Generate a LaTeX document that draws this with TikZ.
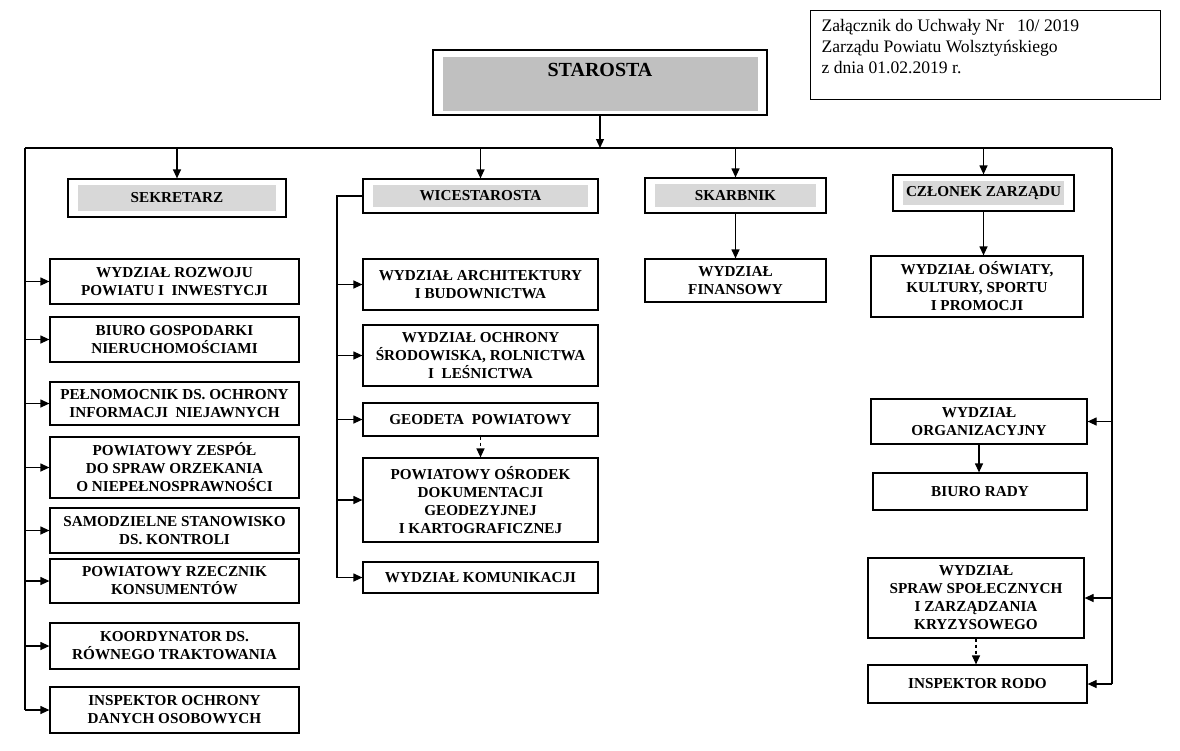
\documentclass[tikz,border=0pt]{standalone}
\usepackage{fontspec}
\setmainfont{Liberation Serif}
\usetikzlibrary{arrows.meta}

\definecolor{ciemnoszary}{RGB}{192,192,192}
\definecolor{jasnoszary}{RGB}{216,216,216}

\begin{document}
\begin{tikzpicture}[x=1pt, y=-1pt, line width=1.2pt,
    komorka/.style={draw, align=center, inner sep=2pt, font=\fontsize{15.2}{18}\selectfont\bfseries},
    naglowek/.style={komorka, path picture={\fill[jasnoszary] ([xshift=10pt,yshift=6pt]path picture bounding box.south west) rectangle ([xshift=-10pt,yshift=-6pt]path picture bounding box.north east);}},
    kolA/.style={komorka, minimum width=249pt},
    kolB/.style={komorka, minimum width=235pt},
    strz/.style={-{Triangle[length=9pt,width=8pt]}},
    przer/.style={strz, dashed}]
    \useasboundingbox (0,0) rectangle (1180,750);

    % Zalacznik
    \node (zal) [draw, anchor=north west, minimum width=350pt, minimum height=89pt] at (810,10) {};
    \node (zaltekst) [anchor=north west, align=left, inner sep=0pt, font=\fontsize{17.6}{21}\selectfont] at (821,19)
        {Załącznik do Uchwały Nr\ \ \ 10/ 2019\\Zarządu Powiatu Wolsztyńskiego\\z dnia 01.02.2019 r.};

    % Starosta
    \node (staro) [komorka, minimum width=334pt, minimum height=65pt, font=\fontsize{20}{25}\selectfont\bfseries,
        path picture={\fill[ciemnoszary] ([xshift=10pt,yshift=4pt]path picture bounding box.south west) rectangle ([xshift=-9pt,yshift=-7pt]path picture bounding box.north east);}]
        at (600,82.5) {STAROSTA\\\mbox{}};

    % Naglowki
    \node (sek) [naglowek, minimum width=218pt, minimum height=38pt] at (177,198) {SEKRETARZ};
    \node (wice) [naglowek, minimum width=235pt, minimum height=34pt] at (480.5,196) {WICESTAROSTA};
    \node (skarb) [naglowek, minimum width=181pt, minimum height=35pt] at (735.5,195.5) {SKARBNIK};
    \node (czlonek) [naglowek, minimum width=181pt, minimum height=36pt] at (983.5,193) {CZŁONEK ZARZĄDU};

    % Kolumna sekretarza
    \node (rozwoj) [kolA, minimum height=45pt] at (174.5,281.5) {WYDZIAŁ ROZWOJU\\POWIATU I\ \ INWESTYCJI};
    \node (biuro) [kolA, minimum height=45pt] at (174.5,339.5) {BIURO GOSPODARKI\\NIERUCHOMOŚCIAMI};
    \node (pelnom) [kolA, minimum height=43pt] at (174.5,403.5) {PEŁNOMOCNIK DS. OCHRONY\\INFORMACJI\ \ NIEJAWNYCH};
    \node (zespol) [kolA, minimum height=61pt] at (174.5,467.5) {POWIATOWY ZESPÓŁ\\DO SPRAW ORZEKANIA\\O NIEPEŁNOSPRAWNOŚCI};
    \node (kontrola) [kolA, minimum height=45pt] at (174.5,530.5) {SAMODZIELNE STANOWISKO\\DS. KONTROLI};
    \node (rzecznik) [kolA, minimum height=44pt] at (174.5,581) {POWIATOWY RZECZNIK\\KONSUMENTÓW};
    \node (koord) [kolA, minimum height=46pt] at (174.5,646) {KOORDYNATOR DS.\\RÓWNEGO TRAKTOWANIA};
    \node (inspektor) [kolA, minimum height=46pt] at (174.5,710) {INSPEKTOR OCHRONY\\DANYCH OSOBOWYCH};

    % Kolumna wicestarosty
    \node (arch) [kolB, minimum height=51pt] at (480.5,284.5) {WYDZIAŁ ARCHITEKTURY\\I BUDOWNICTWA};
    \node (ochrona) [kolB, minimum height=61pt] at (480.5,355.5) {WYDZIAŁ OCHRONY\\ŚRODOWISKA, ROLNICTWA\\I\ \ LEŚNICTWA};
    \node (geodeta) [kolB, minimum height=33pt] at (480.5,419.5) {GEODETA\ \ POWIATOWY};
    \node (podgik) [kolB, minimum height=84pt] at (480.5,500) {POWIATOWY OŚRODEK\\DOKUMENTACJI\\GEODEZYJNEJ\\I KARTOGRAFICZNEJ};
    \node (komun) [kolB, minimum height=31pt] at (480.5,577.5) {WYDZIAŁ KOMUNIKACJI};

    % Skarbnik i czlonek zarzadu
    \node (finans) [komorka, minimum width=181pt, minimum height=43pt] at (735.5,280.5) {WYDZIAŁ\\FINANSOWY};
    \node (oswiata) [komorka, minimum width=212pt, minimum height=61pt] at (977,286.5) {WYDZIAŁ OŚWIATY,\\KULTURY, SPORTU\\I PROMOCJI};
    \node (org) [komorka, minimum width=216pt, minimum height=45pt] at (979,421.5) {WYDZIAŁ\\ORGANIZACYJNY};
    \node (rada) [komorka, minimum width=214pt, minimum height=37pt] at (980,491.5) {BIURO RADY};
    \node (spraw) [komorka, minimum width=216pt, minimum height=80pt] at (976,598) {WYDZIAŁ\\SPRAW SPOŁECZNYCH\\I ZARZĄDZANIA\\KRYZYSOWEGO};
    \node (rodo) [komorka, minimum width=219pt, minimum height=38pt] at (977.5,684) {INSPEKTOR RODO};

    % Szyna glowna
    \coordinate (szynaL) at (25,148);
    \coordinate (szynaP) at (1112,148);
    \coordinate (pionS) at (337,196);
    \draw[strz] (staro.south) -- (staro.south |- szynaL);
    \draw (szynaL) -- (szynaP);
    \draw[strz] (sek.north |- szynaL) -- (sek.north);
    \draw[strz] (wice.north |- szynaL) -- (wice.north);
    \draw[strz] (skarb.north |- szynaL) -- (skarb.north);
    \draw[strz] (czlonek.north |- szynaL) -- (czlonek.north);

    % Lewa linia
    \draw (szynaL) -- (szynaL |- inspektor.west);
    \draw[strz] (szynaL |- rozwoj.west) -- (rozwoj.west);
    \draw[strz] (szynaL |- biuro.west) -- (biuro.west);
    \draw[strz] (szynaL |- pelnom.west) -- (pelnom.west);
    \draw[strz] (szynaL |- zespol.west) -- (zespol.west);
    \draw[strz] (szynaL |- kontrola.west) -- (kontrola.west);
    \draw[strz] (szynaL |- rzecznik.west) -- (rzecznik.west);
    \draw[strz] (szynaL |- koord.west) -- (koord.west);
    \draw[strz] (szynaL |- inspektor.west) -- (inspektor.west);

    % Linia wicestarosty
    \draw (wice.west) -- (pionS) -- (pionS |- komun.west);
    \draw[strz] (pionS |- arch.west) -- (arch.west);
    \draw[strz] (pionS |- ochrona.west) -- (ochrona.west);
    \draw[strz] (pionS |- geodeta.west) -- (geodeta.west);
    \draw[strz] (pionS |- podgik.west) -- (podgik.west);
    \draw[strz] (pionS |- komun.west) -- (komun.west);
    \draw[przer] (geodeta.south) -- (podgik.north);

    % Skarbnik, czlonek zarzadu
    \draw[strz] (skarb.south) -- (finans.north);
    \draw[strz] (czlonek.south) -- (czlonek.south |- oswiata.north);
    \draw[strz] (org.south) -- (org.south |- rada.north);
    \draw[przer] (spraw.south) -- (spraw.south |- rodo.north);

    % Prawa linia
    \draw (szynaP) -- (szynaP |- rodo.east);
    \draw[strz] (szynaP |- org.east) -- (org.east);
    \draw[strz] (szynaP |- spraw.east) -- (spraw.east);
    \draw[strz] (szynaP |- rodo.east) -- (rodo.east);

\end{tikzpicture}
\end{document}
